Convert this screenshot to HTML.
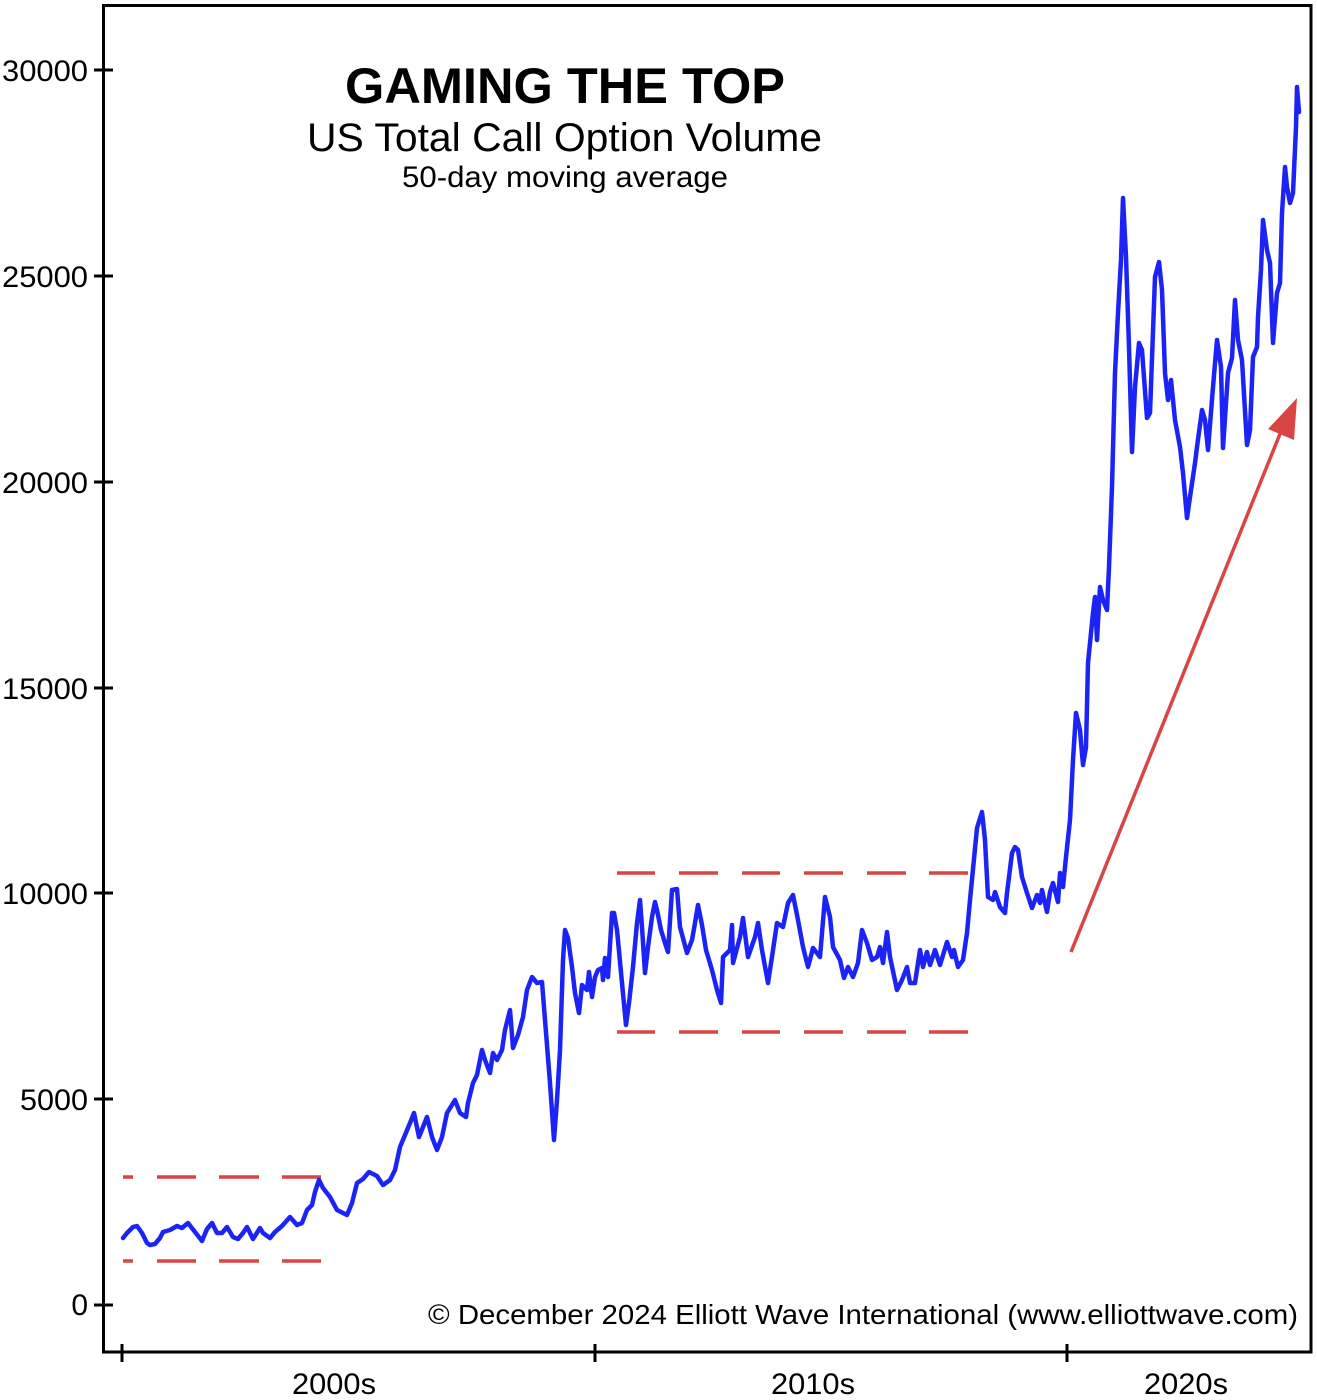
<!DOCTYPE html>
<html><head><meta charset="utf-8"><style>
html,body{margin:0;padding:0;background:#fff;}
svg{display:block;}
text{font-family:"Liberation Sans",Arial,sans-serif;fill:#000;}
</style></head><body>
<svg width="1317" height="1400" viewBox="0 0 1317 1400" xmlns="http://www.w3.org/2000/svg">
<rect x="0" y="0" width="1317" height="1400" fill="#fff"/>
<!-- frame -->
<rect x="103.5" y="5.5" width="1207.5" height="1346.5" fill="none" stroke="#000" stroke-width="3"/>
<!-- y ticks -->
<g stroke="#000" stroke-width="3">
<line x1="94" y1="1305" x2="113" y2="1305"/>
<line x1="94" y1="1099" x2="113" y2="1099"/>
<line x1="94" y1="893" x2="113" y2="893"/>
<line x1="94" y1="688" x2="113" y2="688"/>
<line x1="94" y1="482" x2="113" y2="482"/>
<line x1="94" y1="276" x2="113" y2="276"/>
<line x1="94" y1="70" x2="113" y2="70"/>
<line x1="122" y1="1344" x2="122" y2="1362"/>
<line x1="595" y1="1344" x2="595" y2="1362"/>
<line x1="1067" y1="1344" x2="1067" y2="1362"/>
</g>
<g font-size="30" text-anchor="end">
<text x="88" y="1315">0</text>
<text x="88" y="1110" textLength="68" lengthAdjust="spacingAndGlyphs">5000</text>
<text x="88" y="904" textLength="86" lengthAdjust="spacingAndGlyphs">10000</text>
<text x="88" y="699" textLength="86" lengthAdjust="spacingAndGlyphs">15000</text>
<text x="88" y="493" textLength="86" lengthAdjust="spacingAndGlyphs">20000</text>
<text x="88" y="287" textLength="86" lengthAdjust="spacingAndGlyphs">25000</text>
<text x="88" y="81" textLength="86" lengthAdjust="spacingAndGlyphs">30000</text>
</g>
<g font-size="30">
<text x="292" y="1394" textLength="84" lengthAdjust="spacingAndGlyphs">2000s</text>
<text x="771" y="1394" textLength="84" lengthAdjust="spacingAndGlyphs">2010s</text>
<text x="1144" y="1394" textLength="84" lengthAdjust="spacingAndGlyphs">2020s</text>
</g>
<!-- titles -->
<text x="345" y="103" font-size="50" font-weight="bold" textLength="440" lengthAdjust="spacingAndGlyphs">GAMING THE TOP</text>
<text x="307" y="151" font-size="40" textLength="515" lengthAdjust="spacingAndGlyphs">US Total Call Option Volume</text>
<text x="402" y="187" font-size="30" textLength="326" lengthAdjust="spacingAndGlyphs">50-day moving average</text>
<text x="428" y="1324" font-size="28" textLength="870" lengthAdjust="spacingAndGlyphs">© December 2024 Elliott Wave International (www.elliottwave.com)</text>
<!-- red dashed lines -->
<g stroke="#d94545" stroke-width="3.5" fill="none">
<path d="M123 1177H133M157 1177H196M219 1177H259M282 1177H321"/>
<path d="M123 1261H133M157 1261H196M219 1261H259M282 1261H321"/>
<path d="M617 873H655M679 873H718M742 873H780M804 873H843M867 873H906M929 873H968"/>
<path d="M617 1032H655M679 1032H718M742 1032H780M804 1032H843M867 1032H906M929 1032H968"/>
<line x1="1071" y1="952" x2="1284" y2="424"/>
</g>
<polygon points="1297,398 1268,429 1294,440" fill="#d94545"/>
<!-- data line -->
<polyline fill="none" stroke="#1c24f5" stroke-width="4.5" stroke-linejoin="round" stroke-linecap="round" points="
123,1238 127,1233 133,1227 137,1226 142,1233 147,1243 150,1245 155,1244 160,1238 163,1232 170,1230 177,1226 182,1228 188,1223 195,1232 202,1241 207,1229 212,1223 217,1233 222,1233 227,1227 233,1237 238,1239 243,1233 247,1227 253,1239 260,1228 263,1233 270,1238 275,1232 282,1226 290,1217 297,1225 302,1223 307,1210 312,1205 315,1192 319,1180 323,1188 330,1197 337,1210 347,1215 352,1203 357,1183 363,1179 369,1172 377,1176 383,1185 390,1180 395,1170 400,1147 405,1135 410,1123 414,1113 419,1137 427,1117 432,1137 437,1150 442,1137 447,1113 455,1100 460,1113 466,1117 468,1103 473,1083 477,1075 482,1050 485,1060 490,1073 493,1053 497,1060 502,1050 505,1030 510,1010 513,1048 518,1035 523,1017 527,990 532,977 537,983 542,982 545,1020 550,1083 554,1140 557,1100 560,1050 563,960 565,930 568,938 572,967 575,993 579,1013 582,985 587,990 589,972 592,997 595,977 598,970 602,968 603,980 605,958 608,977 612,913 614,913 617,930 622,983 626,1025 629,1003 633,967 637,923 640,900 642,927 645,973 648,947 652,917 655,902 657,910 661,930 665,943 668,952 672,890 677,889 680,927 687,953 692,940 695,923 698,905 702,925 706,950 712,970 717,990 721,1003 723,957 730,950 732,925 733,963 740,937 743,918 748,957 755,937 758,923 762,950 768,983 773,950 777,923 783,927 788,903 793,895 798,920 803,947 808,967 813,948 820,957 825,897 830,917 833,947 840,960 844,978 848,967 853,977 858,963 862,930 867,943 872,960 877,957 880,947 883,963 887,932 890,957 897,990 902,980 907,967 910,983 915,983 920,950 923,967 927,952 930,965 935,950 940,965 947,942 952,957 954,950 958,967 963,960 967,933 970,900 977,828 982,812 985,840 988,897 993,900 995,892 1000,907 1005,913 1007,893 1012,853 1015,847 1018,850 1022,877 1027,893 1032,908 1037,895 1040,903 1042,890 1047,912 1050,892 1053,883 1058,902 1060,873 1063,887 1066,857 1070,820 1073,760 1076,713 1080,730 1083,765 1086,747 1088,663 1093,613 1095,597 1097,640 1100,587 1103,600 1107,610 1109,567 1112,487 1115,373 1118,313 1121,260 1123,198 1126,257 1129,347 1132,452 1135,387 1139,343 1142,350 1147,418 1150,413 1155,277 1159,262 1162,290 1165,373 1168,400 1171,380 1175,420 1180,447 1183,473 1187,518 1190,497 1195,463 1197,447 1202,410 1205,420 1208,450 1213,387 1217,340 1221,367 1223,448 1228,373 1232,358 1235,300 1238,340 1242,360 1247,445 1250,430 1253,357 1257,347 1258,317 1261,270 1263,220 1267,250 1270,263 1273,343 1277,293 1280,283 1282,213 1285,167 1287,187 1290,203 1293,193 1296,127 1297,87 1299,112"/>
</svg>
</body></html>
